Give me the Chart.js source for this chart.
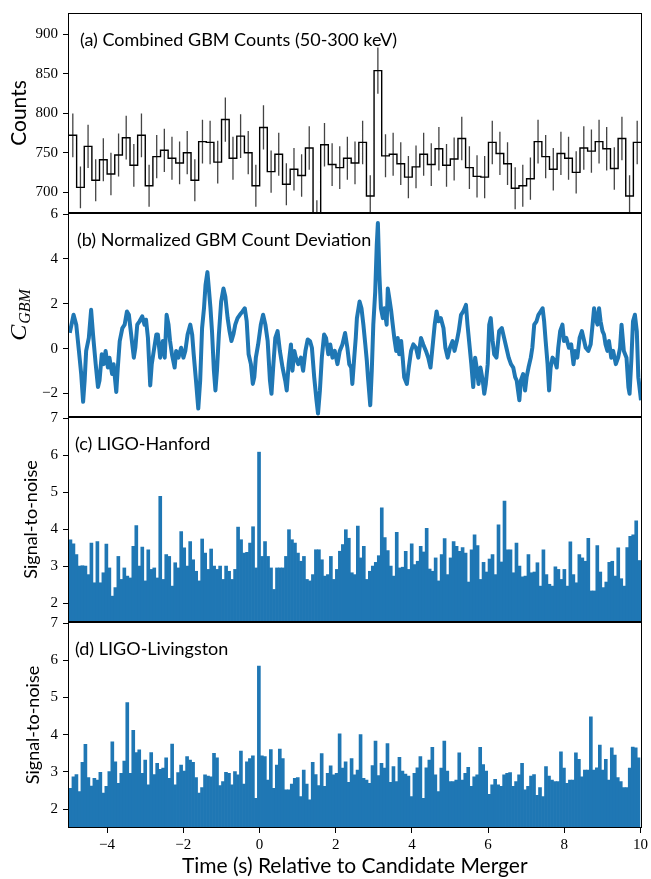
<!DOCTYPE html>
<html>
<head>
<meta charset="utf-8">
<script src="https://cdn.jsdelivr.net/npm/chart.js@4.4.0/dist/chart.umd.min.js"></script>
<style>
body { margin: 0; background: #fff; }
#wrap { position: relative; width: 651px; height: 879px; }
canvas { position: absolute; left: 0; }
</style>
</head>
<body>
<div id="wrap">
  <canvas id="pa" width="651" height="226" style="top:0px"></canvas>
  <canvas id="pb" width="651" height="230" style="top:200px"></canvas>
  <canvas id="pc" width="651" height="231" style="top:404px"></canvas>
  <canvas id="pd" width="651" height="270" style="top:609px"></canvas>
</div>
<script>
// ---- data ----

// (a) GBM counts, 0.2 s bins starting at -5 s
var binStart = -5, binWidth = 0.2;
var counts = [772,706,758,715,741,723,747,769,734,772,
              708,745,753,743,737,750,715,764,763,738,
              792,743,771,750,708,782,726,748,710,729,
              721,756,664,760,735,731,743,737,763,695,
              854,746,748,736,719,732,748,735,755,734,
              742,768,731,720,719,763,749,736,705,708,
              717,764,745,729,749,743,725,756,752,764,
              755,730,768,695,763];
var countErr = [27.8,26.6,27.5,26.7,27.2,26.9,27.3,27.7,27.1,27.8,
                26.6,27.3,27.4,27.3,27.1,27.4,26.7,27.6,27.6,27.2,
                28.1,27.3,27.8,27.4,26.6,28.0,26.9,27.3,26.6,27.0,
                26.9,27.5,25.8,27.6,27.1,27.0,27.3,27.1,27.6,26.4,
                29.2,27.3,27.3,27.1,26.8,27.1,27.3,27.1,27.5,27.1,
                27.2,27.7,27.0,26.8,26.8,27.6,27.4,27.1,26.6,26.6,
                26.8,27.6,27.3,27.0,27.4,27.3,26.9,27.5,27.4,27.6,
                27.5,27.0,27.7,26.4,27.6];

// (b) normalized count deviation (time, value)
var devT = [-4.98,-4.88,-4.81,-4.74,-4.68,-4.63,-4.59,-4.55,-4.48,-4.42,-4.37,-4.30,-4.24,-4.20,-4.14,-4.09,-4.04,-3.98,-3.94,-3.87,
            -3.83,-3.76,-3.72,-3.67,-3.60,-3.54,-3.48,-3.43,-3.39,-3.34,-3.30,-3.26,-3.21,-3.15,-3.08,-3.02,-2.98,-2.93,-2.87,-2.83,
            -2.79,-2.71,-2.67,-2.61,-2.54,-2.49,-2.44,-2.39,-2.35,-2.30,-2.23,-2.19,-2.13,-2.06,-2.00,-1.95,-1.89,-1.82,-1.77,-1.73,
            -1.67,-1.61,-1.56,-1.51,-1.46,-1.42,-1.37,-1.34,-1.29,-1.25,-1.20,-1.16,-1.12,-1.07,-1.01,-0.95,-0.90,-0.84,-0.79,-0.74,
            -0.69,-0.64,-0.58,-0.52,-0.45,-0.39,-0.34,-0.29,-0.23,-0.18,-0.14,-0.10,-0.04,0.03,0.09,0.15,0.21,0.27,0.31,0.36,
            0.41,0.47,0.53,0.60,0.67,0.71,0.76,0.82,0.86,0.91,0.95,1.01,1.08,1.14,1.20,1.26,1.32,1.37,1.43,1.49,
            1.53,1.58,1.63,1.69,1.74,1.80,1.85,1.91,1.97,2.04,2.10,2.17,2.24,2.30,2.35,2.40,2.43,2.48,2.52,2.55,
            2.62,2.67,2.72,2.77,2.81,2.84,2.90,2.94,2.98,3.03,3.07,3.10,3.14,3.18,3.23,3.27,3.33,3.36,3.40,3.45,
            3.49,3.53,3.58,3.62,3.66,3.71,3.75,3.79,3.86,3.91,3.97,4.03,4.10,4.16,4.23,4.29,4.36,4.42,4.48,4.54,
            4.59,4.64,4.69,4.75,4.82,4.87,4.93,4.99,5.06,5.11,5.17,5.22,5.28,5.34,5.41,5.45,5.50,5.55,5.60,5.65,
            5.69,5.74,5.79,5.85,5.89,5.93,5.98,6.02,6.06,6.11,6.15,6.21,6.28,6.35,6.41,6.47,6.53,6.59,6.65,6.70,
            6.74,6.81,6.85,6.91,6.96,7.00,7.05,7.11,7.15,7.20,7.26,7.31,7.37,7.42,7.46,7.50,7.55,7.59,7.63,7.68,
            7.74,7.79,7.83,7.88,7.94,7.98,8.04,8.11,8.17,8.23,8.27,8.33,8.39,8.45,8.51,8.55,8.62,8.68,8.73,8.77,
            8.81,8.86,8.90,8.94,8.99,9.03,9.07,9.12,9.16,9.22,9.27,9.34,9.40,9.45,9.49,9.55,9.62,9.67,9.70,9.75,
            9.79,9.84,9.89,9.93,10.0];
var devV = [0.70,1.51,1.07,-0.10,-1.13,-2.37,-1.42,-0.10,0.48,1.73,0.63,-0.69,-1.71,-1.42,-0.25,-0.69,-0.10,-0.84,-0.40,-1.13,
            -0.69,-1.93,-0.84,0.34,0.92,1.07,1.66,1.51,0.92,0.19,-0.40,0.04,1.07,1.22,1.44,1.07,1.29,0.48,-1.64,-0.69,
            -0.25,0.63,0.63,-0.40,0.34,-0.40,1.51,1.07,0.34,-0.25,-0.84,-0.10,-0.40,0.04,-0.40,-0.10,0.63,1.07,0.63,-0.25,
            -1.42,-2.67,-1.42,0.92,1.80,2.83,3.41,2.83,1.80,0.78,-0.98,-1.86,-0.98,0.63,2.10,2.68,2.32,1.36,0.78,0.34,
            0.63,1.07,1.36,1.51,1.66,1.80,1.22,-0.25,-0.69,-1.57,-1.27,-0.40,0.19,1.07,1.51,1.07,0.34,-1.42,-2.01,-0.69,
            0.48,0.78,-0.10,-0.84,-1.42,-1.86,-0.69,0.19,-0.98,-0.10,-0.40,-0.69,-0.40,-0.98,-0.10,0.41,0.34,0.04,-1.27,-2.30,
            -2.89,-1.86,-0.40,0.63,0.48,-0.25,0.19,-0.40,-0.10,-0.69,-0.10,0.19,0.70,0.04,-0.69,-0.84,-1.57,-0.40,0.48,1.36,
            2.10,1.80,1.07,0.19,-0.54,-1.27,-2.52,-0.98,1.07,2.53,4.59,5.60,3.27,1.80,1.36,1.80,1.07,2.68,2.24,1.66,
            1.07,0.48,-0.10,0.48,-0.25,0.34,-0.40,-1.27,-1.57,-0.84,-0.10,0.19,0.04,-0.40,0.48,0.19,-0.10,-0.40,-0.84,0.19,
            1.07,1.66,1.22,1.36,0.92,0.04,-0.40,0.04,0.34,-0.10,0.34,0.78,1.51,1.66,1.95,1.07,0.19,-0.69,-1.71,-0.40,
            -0.84,-1.57,-0.84,-1.42,-2.01,-1.57,-0.69,1.07,1.36,0.34,-0.25,-0.40,0.78,0.92,0.48,0.04,-0.40,-0.69,-0.84,-1.27,
            -1.42,-2.30,-1.42,-1.13,-1.86,-1.27,-0.84,-0.40,0.04,1.07,1.22,1.51,1.66,1.80,1.22,0.34,-0.69,-1.86,-0.84,-0.40,
            -0.54,-0.84,0.04,0.78,1.07,0.34,0.48,0.04,0.19,-0.69,-0.10,-0.40,0.48,0.78,0.34,0.04,-0.10,0.19,1.07,1.80,
            1.36,1.07,1.80,1.22,0.78,0.63,0.19,-0.10,0.34,-0.40,-0.10,-0.69,-0.40,0.04,1.07,-0.10,-0.40,-1.71,-2.01,-0.40,
            1.22,1.51,0.78,-1.27,-2.30];

// (c), (d) signal-to-noise envelopes, sampled every 0.0785 s from -4.962 s
var snrStart = -4.962, snrStep = 0.0785;
var hanford = [3.72,3.61,3.32,3.01,3.02,3.01,2.78,3.63,2.56,3.67,
               2.56,2.83,3.60,2.96,2.20,2.43,3.27,2.65,2.96,2.74,
               2.69,3.54,4.10,3.01,3.52,2.61,3.45,2.92,2.96,2.69,
               4.89,2.65,3.32,3.27,2.47,3.10,2.96,3.94,3.50,3.01,
               3.67,3.18,2.87,2.61,3.74,3.36,2.92,3.47,3.01,2.92,
               3.01,2.65,3.01,2.87,2.65,2.92,4.06,3.72,3.36,3.38,
               3.63,4.07,2.96,6.08,3.27,3.67,3.27,2.96,2.38,2.96,
               2.96,2.96,3.27,3.99,3.72,3.63,3.36,3.14,3.27,2.65,
               2.61,2.78,3.45,3.45,3.18,2.74,2.78,3.27,2.65,2.92,
               3.41,3.59,3.99,3.76,2.83,
               2.78,4.09,3.23,3.54,2.65,2.87,3.01,3.11,3.29,4.58,
               3.78,3.43,3.01,2.74,3.92,2.96,2.98,3.41,2.92,3.61,
               3.05,3.14,3.54,3.39,4.03,2.93,2.87,3.23,2.61,3.32,
               3.75,2.78,3.23,3.67,3.54,3.41,3.51,3.36,2.58,3.45,
               3.85,3.56,2.65,3.11,2.85,3.20,3.32,2.78,4.12,3.12,
               4.76,3.45,3.45,2.83,3.63,3.01,2.72,2.74,3.32,2.83,
               2.85,3.10,2.47,3.45,2.78,2.52,2.47,2.99,2.92,2.65,
               2.92,2.47,3.66,2.78,2.56,3.32,3.23,3.14,3.76,2.34,
               2.34,3.56,2.85,2.43,2.58,3.11,3.14,2.74,3.50,2.67,
               2.47,3.51,3.81,3.85,4.23,3.16];
var livingston = [2.56,2.87,2.93,2.47,3.26,3.74,2.85,2.62,2.83,2.78,
                  2.99,2.43,2.61,3.01,3.81,3.27,2.69,2.96,3.29,4.86,
                  2.96,4.12,3.52,3.59,2.96,3.32,2.65,3.52,2.93,3.23,
                  3.07,3.10,3.38,2.83,3.75,2.65,2.98,3.18,3.02,3.41,
                  3.32,3.26,2.85,2.43,2.58,2.92,2.89,2.87,3.50,3.38,
                  2.63,2.74,2.99,2.96,2.65,3.01,2.92,3.56,2.67,3.27,
                  3.36,3.43,2.29,5.84,3.43,3.41,2.78,3.60,2.56,3.18,
                  3.61,3.36,2.52,2.52,2.67,2.83,2.85,2.34,3.05,2.67,
                  2.25,3.26,2.93,2.63,3.49,2.61,2.96,3.16,2.92,2.96,
                  4.02,3.10,3.27,2.72,3.36,
                  2.92,3.05,4.00,2.83,2.78,2.69,3.17,3.83,2.90,3.23,
                  3.10,3.76,2.72,3.14,2.74,3.39,3.02,2.94,2.89,2.34,
                  2.96,3.11,3.41,2.29,3.11,3.32,3.66,2.92,2.47,3.10,
                  3.83,3.02,2.74,2.74,2.78,3.51,2.78,2.96,3.12,2.61,
                  2.87,2.92,3.66,3.20,3.02,2.40,2.65,2.80,2.65,2.61,
                  2.92,2.96,2.98,2.61,2.74,2.92,3.23,2.52,2.61,2.89,
                  2.93,2.37,2.58,2.34,3.14,2.89,2.78,2.74,2.74,3.54,
                  3.10,2.69,2.78,2.78,3.51,3.34,2.87,3.05,3.05,4.48,
                  3.05,3.11,3.72,3.05,3.34,2.78,3.65,3.45,2.85,2.74,
                  2.58,2.58,3.10,3.67,3.65,3.38];

var xTicks = [-4, -2, 0, 2, 4, 6, 8, 10];
var countTicks = [700, 750, 800, 850, 900];
var devTicks = [-2, 0, 2, 4, 6];
var snrTicks = [2, 3, 4, 5, 6, 7];

// ---- drawing ----
var BLUE = '#1f77b4';
var SANS = 'Lato, "Open Sans", sans-serif';
var SERIF = '"Liberation Serif", "DejaVu Serif", serif';

function fmt(v) { return v < 0 ? '\u2212' + (-v) : String(v); }

var framePlugin = {
    id: 'frame',
    afterDraw: function(chart) {
        var a = chart.chartArea, ctx = chart.ctx;
        ctx.save();
        ctx.strokeStyle = '#000';
        ctx.lineWidth = 1;
        ctx.strokeRect(Math.round(a.left) - 0.5, Math.round(a.top) - 0.5,
                       Math.round(a.right - a.left) + 1, Math.round(a.bottom - a.top) + 1);
        ctx.restore();
    }
};

var labelPlugin = {
    id: 'panelLabel',
    afterDraw: function(chart, args, opts) {
        if (!opts || !opts.text) return;
        var a = chart.chartArea, ctx = chart.ctx;
        ctx.save();
        ctx.font = opts.size + 'px ' + SANS;
        ctx.fillStyle = '#000';
        ctx.textBaseline = 'middle';
        ctx.fillText(opts.text, a.left + opts.dx, a.top + 26);
        ctx.restore();
    }
};

var cgbmPlugin = {
    id: 'cgbm',
    afterDraw: function(chart) {
        var a = chart.chartArea, ctx = chart.ctx;
        ctx.save();
        ctx.translate(18, (a.top + a.bottom) / 2);
        ctx.rotate(-Math.PI / 2);
        ctx.fillStyle = '#000';
        var f1 = 'italic 24px ' + SERIF, f2 = 'italic 16px ' + SERIF;
        ctx.font = f1; var w1 = ctx.measureText('C').width;
        ctx.font = f2; var w2 = ctx.measureText('GBM').width;
        var x0 = -(w1 + w2 + 1) / 2;
        ctx.font = f1; ctx.fillText('C', x0, 8);
        ctx.font = f2; ctx.fillText('GBM', x0 + w1 + 1, 12);
        ctx.restore();
    }
};

function xScale(show) {
    return {
        type: 'linear', min: -5, max: 10, offset: false, display: show,
        afterBuildTicks: function(s) { s.ticks = xTicks.map(function(v) { return {value: v}; }); },
        afterFit: function(s) { if (show) s.height = 52; },
        ticks: { font: {family: SERIF, size: 15}, color: '#000', padding: 3, maxRotation: 0, autoSkip: false, callback: fmt },
        grid: { display: true, offset: false, drawOnChartArea: false, drawTicks: true, tickLength: 6, color: '#000' },
        border: { display: false },
        title: { display: show, text: 'Time (s) Relative to Candidate Merger', font: {family: SANS, size: 21}, color: '#000', padding: {top: 0, bottom: 0} }
    };
}

function yScale(min, max, ticks, title, padLeft, titleSize) {
    return {
        type: 'linear', min: min, max: max,
        afterBuildTicks: function(s) { s.ticks = ticks.map(function(v) { return {value: v}; }); },
        afterFit: function(s) { s.width = 69 - padLeft; },
        ticks: { font: {family: SERIF, size: 15}, color: '#000', padding: 5, callback: fmt },
        grid: { display: true, drawOnChartArea: false, drawTicks: true, tickLength: 6, color: '#000' },
        border: { display: false },
        title: { display: !!title, text: title, font: {family: SANS, size: titleSize}, color: '#000', padding: {top: 4, bottom: 4} }
    };
}

function baseOptions(padLeft, padTop, padBottom, label, dx, scales) {
    return {
        responsive: false, animation: false, events: [],
        layout: { padding: { left: padLeft, right: 10, top: padTop, bottom: padBottom } },
        scales: scales,
        plugins: { legend: {display: false}, tooltip: {enabled: false},
                   panelLabel: { text: label, dx: dx, size: 18 } }
    };
}

// panel (a): step histogram with error bars
var stepData = [], errData = [];
for (var i = 0; i <= counts.length; i++) {
    stepData.push({x: binStart + binWidth * i, y: counts[Math.min(i, counts.length - 1)]});
}
for (var i = 0; i < counts.length; i++) {
    var c = binStart + binWidth * (i + 0.5);
    errData.push({x: c, y: counts[i] - countErr[i]}, {x: c, y: counts[i] + countErr[i]}, {x: c, y: null});
}
new Chart(document.getElementById('pa'), {
    type: 'line',
    data: { datasets: [
        { data: stepData, stepped: 'before', borderColor: '#000', borderWidth: 1.4, pointRadius: 0, clip: 0, order: 0 },
        { data: errData, borderColor: '#444', borderWidth: 1.3, pointRadius: 0, spanGaps: false, clip: 0, order: 1 }
    ]},
    options: baseOptions(3, 8, 13, '(a) Combined GBM Counts (50-300 keV)', 11,
        { x: xScale(false), y: yScale(674.8, 925.8, countTicks, 'Counts', 3, 21) }),
    plugins: [framePlugin, labelPlugin]
});

// panel (b): normalized deviation
var devData = devT.map(function(t, k) { return {x: t, y: devV[k]}; });
new Chart(document.getElementById('pb'), {
    type: 'line',
    data: { datasets: [
        { data: devData, borderColor: BLUE, borderWidth: 4, borderJoinStyle: 'round', pointRadius: 0, tension: 0, clip: 0 }
    ]},
    options: baseOptions(0, 13, 13, '(b) Normalized GBM Count Deviation', 8,
        { x: xScale(false), y: yScale(-3, 6, devTicks, '', 0, 17) }),
    plugins: [framePlugin, labelPlugin, cgbmPlugin]
});

// panels (c), (d): signal-to-noise
function snrData(arr) {
    return arr.map(function(v, k) { return {x: snrStart + snrStep * k, y: v}; });
}
function snrSet(arr) {
    return { data: snrData(arr), backgroundColor: BLUE, borderWidth: 0,
             barPercentage: 1, categoryPercentage: 1, clip: 0 };
}
new Chart(document.getElementById('pc'), {
    type: 'bar',
    data: { datasets: [ snrSet(hanford) ] },
    options: baseOptions(16, 13, 13, '(c) LIGO-Hanford', 6,
        { x: xScale(false), y: yScale(1.53, 7, snrTicks, 'Signal-to-noise', 16, 18) }),
    plugins: [framePlugin, labelPlugin]
});
new Chart(document.getElementById('pd'), {
    type: 'bar',
    data: { datasets: [ snrSet(livingston) ] },
    options: baseOptions(18, 13, 0, '(d) LIGO-Livingston', 6,
        { x: xScale(true), y: yScale(1.52, 7, snrTicks, 'Signal-to-noise', 18, 18) }),
    plugins: [framePlugin, labelPlugin]
});
</script>
</body>
</html>
